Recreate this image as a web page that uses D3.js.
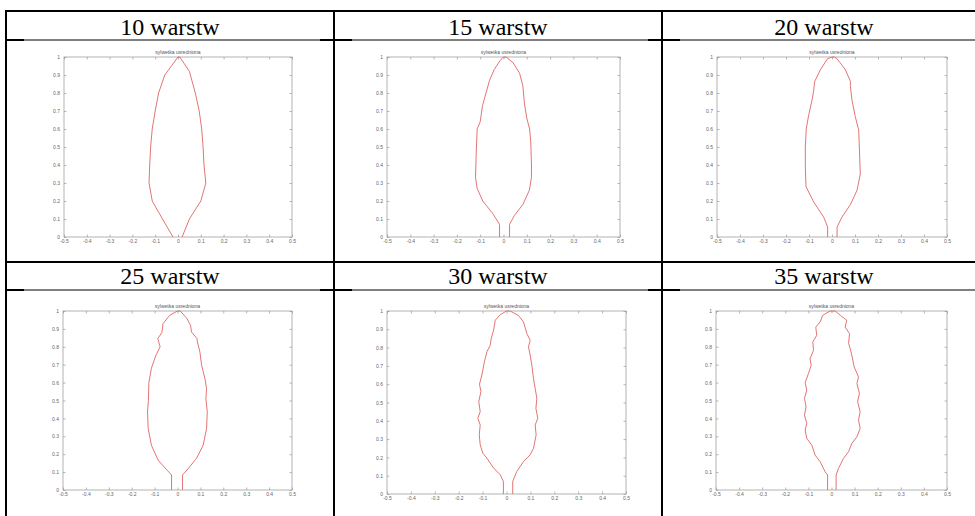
<!DOCTYPE html>
<html>
<head>
<meta charset="utf-8">
<script src="https://cdn.jsdelivr.net/npm/d3@7"></script>
<style>
  body { margin: 0; background: #fff; }
  svg { display: block; }
  .head { font-family: "Liberation Serif", Tinos, Times, "Times New Roman", "DejaVu Serif", FreeSerif, serif; font-size: 24px; }
  .small { font-family: "Liberation Sans", Arial, sans-serif; font-size: 5px; }
</style>
</head>
<body>
<div id="chart"></div>
<script>
// naglowki komorek tabeli
const titles = ["10 warstw", "15 warstw", "20 warstw", "25 warstw", "30 warstw", "35 warstw"];
const plotTitle = "sylwetka usredniona";

const xTicks = [-0.5, -0.4, -0.3, -0.2, -0.1, 0, 0.1, 0.2, 0.3, 0.4, 0.5];
const xTickLabels = ["-0.5", "-0.4", "-0.3", "-0.2", "-0.1", "0", "0.1", "0.2", "0.3", "0.4", "0.5"];
const yTicks = [0, 0.1, 0.2, 0.3, 0.4, 0.5, 0.6, 0.7, 0.8, 0.9, 1];
const yTickLabels = ["0", "0.1", "0.2", "0.3", "0.4", "0.5", "0.6", "0.7", "0.8", "0.9", "1"];

// kontur sylwetki: lewa strona od dolu do gory, potem prawa od gory do dolu  [x, y]
const sil10 = [
  [-0.022, 0], [-0.068, 0.1], [-0.113, 0.2], [-0.127, 0.3], [-0.124, 0.4], [-0.12, 0.5],
  [-0.113, 0.6], [-0.1, 0.7], [-0.085, 0.8], [-0.058, 0.9], [0, 1],
  [0.008, 1], [0.05, 0.92], [0.076, 0.8], [0.093, 0.7], [0.104, 0.6], [0.11, 0.5],
  [0.114, 0.4], [0.122, 0.3], [0.1, 0.2], [0.05, 0.1], [0.018, 0]
];
const sil15 = [
  [-0.017, 0], [-0.017, 0.07], [-0.046, 0.13], [-0.089, 0.2], [-0.113, 0.27], [-0.12, 0.33],
  [-0.117, 0.47], [-0.113, 0.6], [-0.1, 0.64], [-0.09, 0.73], [-0.075, 0.8], [-0.06, 0.87],
  [-0.04, 0.93], [-0.015, 0.98], [0, 1],
  [0.011, 1], [0.04, 0.97], [0.069, 0.91], [0.083, 0.84], [0.09, 0.74], [0.1, 0.66],
  [0.112, 0.6], [0.117, 0.53], [0.12, 0.4], [0.12, 0.33], [0.111, 0.26], [0.083, 0.18],
  [0.047, 0.12], [0.026, 0.07], [0.026, 0]
];
const sil20 = [
  [-0.019, 0], [-0.019, 0.055], [-0.036, 0.11], [-0.08, 0.195], [-0.113, 0.28], [-0.116, 0.39],
  [-0.116, 0.5], [-0.112, 0.6], [-0.101, 0.68], [-0.087, 0.76], [-0.08, 0.81], [-0.075, 0.865],
  [-0.05, 0.93], [-0.02, 0.99], [0, 1],
  [0.01, 1], [0.022, 0.99], [0.058, 0.93], [0.08, 0.865], [0.08, 0.836], [0.087, 0.76],
  [0.101, 0.67], [0.116, 0.595], [0.12, 0.46], [0.123, 0.35], [0.109, 0.26], [0.08, 0.18],
  [0.043, 0.11], [0.022, 0.055], [0.022, 0]
];
const sil25 = [
  [-0.026, 0], [-0.026, 0.084], [-0.045, 0.11], [-0.085, 0.167], [-0.114, 0.25], [-0.128, 0.344],
  [-0.131, 0.437], [-0.127, 0.5], [-0.125, 0.6], [-0.114, 0.68], [-0.095, 0.75], [-0.076, 0.8],
  [-0.086, 0.846], [-0.068, 0.88], [-0.063, 0.93], [-0.034, 0.976], [0, 1],
  [0.012, 1], [0.04, 0.96], [0.057, 0.92], [0.061, 0.883], [0.085, 0.846], [0.087, 0.827],
  [0.098, 0.77], [0.105, 0.7], [0.12, 0.62], [0.127, 0.566], [0.124, 0.51], [0.13, 0.437],
  [0.127, 0.344], [0.112, 0.25], [0.083, 0.177], [0.047, 0.12], [0.022, 0.084], [0.022, 0]
];
const sil30 = [
  [-0.013, 0], [-0.013, 0.069], [-0.026, 0.105], [-0.054, 0.142], [-0.068, 0.169], [-0.082, 0.196],
  [-0.099, 0.223], [-0.11, 0.269], [-0.114, 0.323], [-0.11, 0.377], [-0.12, 0.414], [-0.11, 0.45],
  [-0.116, 0.505], [-0.107, 0.56], [-0.113, 0.6], [-0.103, 0.65], [-0.093, 0.72], [-0.082, 0.777],
  [-0.068, 0.813], [-0.064, 0.85], [-0.054, 0.895], [-0.047, 0.95], [-0.026, 0.98], [0, 1],
  [0.015, 1], [0.05, 0.976], [0.071, 0.94], [0.085, 0.877], [0.099, 0.84], [0.092, 0.804],
  [0.099, 0.759], [0.106, 0.704], [0.113, 0.63], [0.12, 0.577], [0.127, 0.523], [0.123, 0.468],
  [0.131, 0.414], [0.12, 0.377], [0.124, 0.323], [0.113, 0.25], [0.099, 0.214], [0.071, 0.177],
  [0.043, 0.123], [0.026, 0.069], [0.026, 0]
];
const sil35 = [
  [-0.017, 0], [-0.017, 0.084], [-0.027, 0.1], [-0.049, 0.158], [-0.071, 0.195], [-0.085, 0.25],
  [-0.107, 0.288], [-0.114, 0.335], [-0.107, 0.372], [-0.117, 0.418], [-0.11, 0.465], [-0.117, 0.511],
  [-0.107, 0.558], [-0.114, 0.6], [-0.1, 0.65], [-0.088, 0.697], [-0.093, 0.734], [-0.078, 0.78],
  [-0.081, 0.827], [-0.064, 0.864], [-0.068, 0.91], [-0.049, 0.94], [-0.038, 0.976], [-0.006, 1],
  [0.016, 1], [0.038, 0.976], [0.066, 0.948], [0.059, 0.91], [0.078, 0.874], [0.074, 0.818],
  [0.081, 0.79], [0.088, 0.753], [0.098, 0.688], [0.117, 0.632], [0.11, 0.595], [0.121, 0.539],
  [0.113, 0.493], [0.124, 0.437], [0.117, 0.39], [0.124, 0.344], [0.11, 0.297], [0.088, 0.26],
  [0.074, 0.214], [0.052, 0.177], [0.03, 0.12], [0.02, 0.084], [0.02, 0]
];
const silhouettes = [sil10, sil15, sil20, sil25, sil30, sil35];

const width = 975;
const height = 516;

const svg = d3.select("#chart")
  .append("svg")
  .attr("width", width)
  .attr("height", height);

// --- tabela ---
const colX = [6, 334, 662];
const headCenters = [170, 498, 824];
const headBase = [35, 284];
const table = svg.append("g").attr("stroke", "#000");

[[11, 2], [40, 1], [262, 2], [290, 1]].forEach(([yy, w]) => {
  table.append("line")
    .attr("x1", 5).attr("x2", width)
    .attr("y1", yy).attr("y2", yy)
    .attr("stroke-width", w);
});
colX.forEach(xx => {
  table.append("line")
    .attr("x1", xx).attr("x2", xx)
    .attr("y1", 10).attr("y2", height)
    .attr("stroke-width", 2);
});
// grubsze kawalki przy krawedziach obrazkow
[40, 290].forEach(yy => {
  [[6, 24], [320, 352], [648, 680]].forEach(([a, b]) => {
    table.append("line")
      .attr("x1", a).attr("x2", b)
      .attr("y1", yy).attr("y2", yy)
      .attr("stroke-width", 2);
  });
});

titles.forEach((t, i) => {
  svg.append("text")
    .attr("class", "head")
    .attr("x", headCenters[i % 3])
    .attr("y", headBase[Math.floor(i / 3)])
    .attr("text-anchor", "middle")
    .attr("fill", "#000")
    .text(t);
});

// --- wykresy (ramki osi w pikselach) ---
const boxes = [
  { x0: 64, x1: 292, y0: 57, y1: 237 },
  { x0: 387, x1: 620, y0: 57, y1: 237 },
  { x0: 717, x1: 947, y0: 57, y1: 237 },
  { x0: 63, x1: 292, y0: 311, y1: 490 },
  { x0: 387, x1: 626, y0: 311, y1: 494 },
  { x0: 716, x1: 947, y0: 311, y1: 490 }
];

const styleAxis = (g, labels) => {
  g.select(".domain").remove();
  g.selectAll(".tick line").attr("stroke", "#9a9a9a").attr("stroke-width", 0.7);
  g.selectAll(".tick text")
    .attr("class", "small")
    .attr("font-size", null)
    .attr("font-family", null)
    .attr("fill", labels ? "#666" : "none");
};

silhouettes.forEach((sil, i) => {
  const b = boxes[i];
  const x = d3.scaleLinear().domain([-0.5, 0.5]).range([b.x0, b.x1]);
  const y = d3.scaleLinear().domain([0, 1]).range([b.y1, b.y0]);
  const g = svg.append("g");

  g.append("rect")
    .attr("x", b.x0).attr("y", b.y0)
    .attr("width", b.x1 - b.x0).attr("height", b.y1 - b.y0)
    .attr("fill", "#fff")
    .attr("stroke", "#a0a0a0")
    .attr("stroke-width", 0.8);

  g.append("g")
    .attr("transform", `translate(0,${b.y1})`)
    .call(d3.axisBottom(x).tickValues(xTicks).tickFormat((d, k) => xTickLabels[k])
      .tickSizeInner(-2.5).tickSizeOuter(0).tickPadding(2.5))
    .call(a => styleAxis(a, true));
  g.append("g")
    .attr("transform", `translate(0,${b.y0})`)
    .call(d3.axisTop(x).tickValues(xTicks).tickFormat("")
      .tickSizeInner(-2.5).tickSizeOuter(0))
    .call(a => styleAxis(a, false));
  g.append("g")
    .attr("transform", `translate(${b.x0},0)`)
    .call(d3.axisLeft(y).tickValues(yTicks).tickFormat((d, k) => yTickLabels[k])
      .tickSizeInner(-2.5).tickSizeOuter(0).tickPadding(4))
    .call(a => styleAxis(a, true));
  g.append("g")
    .attr("transform", `translate(${b.x1},0)`)
    .call(d3.axisRight(y).tickValues(yTicks).tickFormat("")
      .tickSizeInner(-2.5).tickSizeOuter(0))
    .call(a => styleAxis(a, false));

  g.append("text")
    .attr("class", "small")
    .attr("x", (b.x0 + b.x1) / 2)
    .attr("y", b.y0 - 3)
    .attr("text-anchor", "middle")
    .attr("fill", "#555")
    .text(plotTitle);

  const line = d3.line()
    .x(d => x(d[0]))
    .y(d => y(d[1]));

  g.append("path")
    .datum(sil)
    .attr("d", line)
    .attr("fill", "none")
    .attr("stroke", "#e06464")
    .attr("stroke-width", 0.9);
});
</script>
</body>
</html>
